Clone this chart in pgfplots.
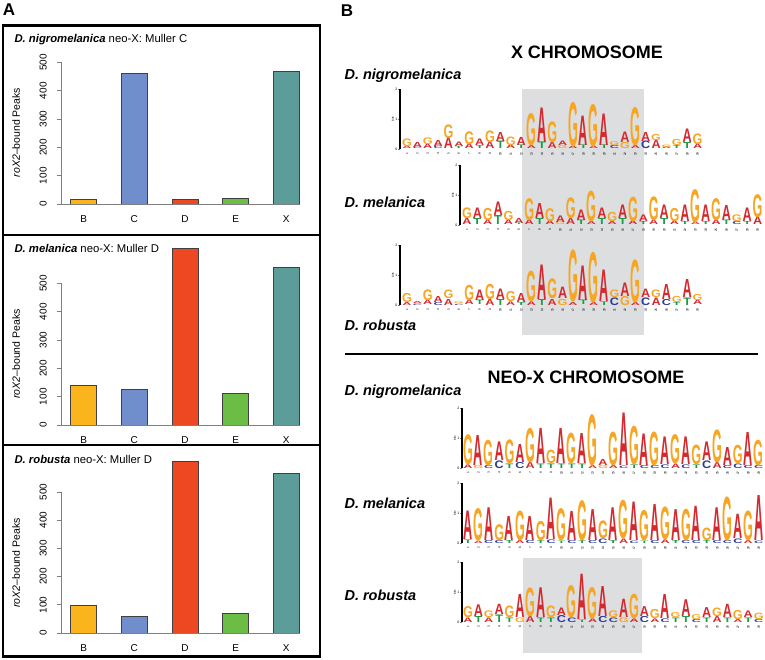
\documentclass[border=0pt]{standalone}
\usepackage{fontspec}
\setmainfont{Liberation Sans}
\usepackage{pgfplots}
\usepackage{pgfplotstable}
\pgfplotsset{compat=1.18}
\definecolor{cA}{HTML}{D42A2F}
\definecolor{cG}{HTML}{F6A623}
\definecolor{cC}{HTML}{2B3A97}
\definecolor{cT}{HTML}{1E9A48}
\definecolor{bB}{HTML}{F9B51B}
\definecolor{bC}{HTML}{6F8ECB}
\definecolor{bD}{HTML}{EE4823}
\definecolor{bE}{HTML}{6CBD45}
\definecolor{bX}{HTML}{5C9D9A}
\definecolor{motifgray}{HTML}{DDDEE0}
\newcommand\LA{\textcolor{cA}{A}}
\newcommand\LG{\textcolor{cG}{G}}
\newcommand\LC{\textcolor{cC}{C}}
\newcommand\LT{\textcolor{cT}{T}}

% X chromosome, D. nigromelanica
\pgfplotstableread{
x h1 l1 h2 l2
1 .08 A .25 G
2 .05 C .17 A
3 .15 A .22 G
4 .08 C .20 A
5 .35 A .45 G
6 .07 T .15 A
7 .15 A .42 G
8 .10 T .22 A
9 .22 A .38 G
10 .25 T .30 A
11 .12 A .28 G
12 .12 T .27 A
13 .10 A 1.05 G
14 .22 T 1.15 A
15 .20 A .68 G
16 .10 G .15 A
17 .08 A 1.45 G
18 .12 T .98 A
19 .08 A 1.38 G
20 .12 T 1.05 A
21 .10 C .12 G
22 .20 G .35 A
23 .10 A 1.25 G
24 .25 C .30 A
25 .28 A .20 G
26 .06 A .08 G
27 .10 T .20 G
28 .20 T .45 A
29 .15 A .35 G
}\tXnig
% X chromosome, D. melanica
\pgfplotstableread{
x h1 l1 h2 l2
1 .20 A .35 G
2 .20 T .35 A
3 .15 A .40 G
4 .30 T .45 A
5 .15 A .30 G
6 .05 T .17 A
7 .15 A .72 G
8 .20 T .50 A
9 .12 A .42 G
10 .08 G .22 A
11 .20 A .68 G
12 .15 T .35 A
13 .10 A 1.00 G
14 .20 T .35 A
15 .10 A .30 G
16 .20 T .45 A
17 .12 A .80 G
18 .10 T .22 A
19 .15 A .78 G
20 .20 T .45 A
21 .12 A .43 G
22 .10 T .55 A
23 .08 A 1.08 G
24 .10 T .55 A
25 .15 A .72 G
26 .15 T .50 A
27 .10 C .22 G
28 .10 T .45 A
29 .25 A .75 G
}\tXmel
% X chromosome, D. robusta
\pgfplotstableread{
x h1 l1 h2 l2
1 .10 A .30 G
2 .05 C .07 A
3 .15 A .35 G
4 .10 C .20 A
5 .20 A .28 G
6 .04 C .06 G
7 .15 A .50 G
8 .15 T .35 A
9 .20 A .50 G
10 .20 T .35 A
11 .12 A .33 G
12 .10 T .30 A
13 .12 A 1.00 G
14 .20 T 1.15 A
15 .20 A .65 G
16 .20 G .38 A
17 .10 A 1.70 G
18 .15 T 1.15 A
19 .10 A 1.65 G
20 .12 T 1.05 A
21 .25 C .25 G
22 .30 G .45 A
23 .10 A 1.40 G
24 .25 C .28 A
25 .25 A .25 G
26 .20 C .50 A
27 .10 T .20 G
28 .25 T .60 A
29 .15 A .20 G
}\tXrob
% neo-X, D. nigromelanica
\pgfplotstableread{
x h1 l1 h2 l2
1 .12 A .98 G
2 .10 G 1.00 A
3 .10 C .83 G
4 .25 C .62 A
5 .15 T .78 G
6 .20 C .60 A
7 .20 A 1.12 G
8 .15 T 1.17 A
9 .15 T .44 G
10 .15 T 1.17 A
11 .15 T 1.00 G
12 .15 T 1.00 A
13 .10 A 1.67 G
14 .10 G .20 A
15 .10 A 1.10 G
16 .08 C 1.75 A
17 .12 T 1.26 G
18 .10 C 1.05 A
19 .10 C 1.10 G
20 .12 C .92 A
21 .15 A .95 G
22 .12 C .92 A
23 .12 T .64 G
24 .25 C .62 A
25 .20 A 1.07 G
26 .10 C .60 A
27 .15 C .60 G
28 .10 C 1.10 A
29 .10 C .83 G
}\tNnig
% neo-X, D. melanica
\pgfplotstableread{
x h1 l1 h2 l2
1 .12 T .95 A
2 .08 A 1.05 G
3 .10 C 1.09 A
4 .10 C .52 G
5 .10 T .80 A
6 .10 A .97 G
7 .10 C .80 A
8 .10 T .63 G
9 .12 C 1.38 A
10 .08 T 1.05 G
11 .10 C .97 A
12 .10 T 1.31 G
13 .10 C 1.03 A
14 .15 C .58 G
15 .10 T 1.09 A
16 .15 A 1.26 G
17 .08 C 1.28 A
18 .08 T .99 G
19 .10 C 1.20 A
20 .12 A 1.07 G
21 .10 T 1.03 A
22 .10 C 1.03 G
23 .10 C 1.14 A
24 .10 T .41 G
25 .10 C 1.09 A
26 .10 C 1.43 G
27 .15 C .81 A
28 .10 A .97 G
29 .08 C 1.50 A
}\tNmel
% neo-X, D. robusta
\pgfplotstableread{
x h1 l1 h2 l2
1 .15 A .36 G
2 .20 T .39 A
3 .15 A .22 G
4 .25 T .34 A
5 .15 T .38 G
6 .15 G .77 A
7 .20 A .94 G
8 .15 T .99 A
9 .15 T .38 G
10 .23 C .25 A
11 .15 C 1.05 G
12 .08 T 1.51 A
13 .12 A 1.02 G
14 .20 C 1.00 A
15 .15 C .22 G
16 .15 G .61 A
17 .12 A .80 G
18 .20 C .33 A
19 .12 A .30 G
20 .12 C .80 A
21 .15 T .16 G
22 .20 T .56 A
23 .10 C .16 G
24 .15 T .33 A
25 .20 A .28 G
26 .15 T .44 A
27 .10 A .30 G
28 .15 T .22 A
29 .10 C .21 G
}\tNrob

\pgfplotsset{
  /pgf/number format/assume math mode=true,
  barA/.style={
    scale only axis, width=238.5pt, anchor=south west,
    xmin=-0.438, xmax=4.27, ymin=0,
    ybar, bar width=26pt, bar shift=0pt,
    axis lines*=left, axis line style={draw=none},
    xtick={0,1,2,3,4}, xticklabels={B,C,D,E,X}, xtick style={draw=none},
    xticklabel style={font=\fontsize{10}{12}\selectfont, anchor=north, inner sep=0pt},
    xticklabel shift=6.5pt,
    ytick={0,100,200,300,400,500}, tick align=outside, major tick length=5pt,
    ytick style={draw=black!50, line width=0.7pt},
    yticklabel style={font=\fontsize{10}{12}\selectfont, rotate=90, anchor=south, inner sep=0pt},
    yticklabel shift=9.5pt,
    clip=false,
    every axis plot/.append style={draw=black!75, line width=0.6pt},
  },
  logo/.style={
    scale only axis, anchor=south west, height=60pt, ymin=0, ymax=2, xmin=#1, xmax=29.6,
    width={(29.6-#1)*10.38pt},
    axis lines*=left, x axis line style={draw=none}, y axis line style={line width=1.1pt},
    xtick={1,...,29}, xtick style={draw=none}, ytick={0,1,2}, tick align=outside,
    major tick length=2pt, ytick style={line width=0.5pt},
    xticklabel style={rotate=90, anchor=east, font=\fontsize{3.2}{3.2}\selectfont, inner sep=1.2pt},
    yticklabel style={font=\fontsize{3.5}{3.5}\selectfont, inner sep=0.6pt},
    ylabel={bits}, ylabel style={font=\fontsize{3}{3}\selectfont, inner sep=0.5pt},
    clip=false,
  },
  letters/.style={
    draw=none, mark=none, forget plot,
    point meta=explicit symbolic,
    visualization depends on={\thisrow{#1} \as \lh},
    nodes near coords={\csname L\pgfplotspointmeta\endcsname},
    nodes near coords style={anchor=base, inner sep=0pt, outer sep=0pt,
      font=\bfseries\fontsize{43.6}{43.6}\selectfont, xscale=0.29, yscale=\lh},
  },
}

\begin{document}
\begin{tikzpicture}
\useasboundingbox (0pt,0pt) rectangle (765pt,-660pt);
% grey boxes marking the shared motif
\fill[motifgray] (522pt,-89pt) rectangle (644pt,-335pt);
\fill[motifgray] (523pt,-558pt) rectangle (642pt,-653pt);

% ---------- Panel A ----------
\node[font=\bfseries\fontsize{17}{17}\selectfont] at (9pt,-10pt) {A};
\draw[line width=2.4pt] (3.2pt,-25.5pt) rectangle (320pt,-656.5pt);
\draw[line width=2.4pt] (3.2pt,-235pt) -- (320pt,-235pt);
\draw[line width=2.4pt] (3.2pt,-445pt) -- (320pt,-445pt);

\begin{axis}[barA, at={(61.5pt,-204pt)}, height=141.6pt, ymax=500]
\addplot[fill=bB] coordinates {(0,16)};
\addplot[fill=bC] coordinates {(1,460)};
\addplot[fill=bD] coordinates {(2,16)};
\addplot[fill=bE] coordinates {(3,19)};
\addplot[fill=bX] coordinates {(4,470)};
\draw[black!50, line width=0.9pt] (axis cs:-0.438,0) -- (axis cs:4.27,0);
\draw[black!50, line width=0.9pt] (axis cs:-0.438,0) -- (axis cs:-0.438,500);
\end{axis}
\node[anchor=west, font=\fontsize{11.3}{13}\selectfont] at (11pt,-40pt) {\textbf{\textit{D. nigromelanica}} neo-X: Muller C};
\node[rotate=90, font=\fontsize{10.5}{12}\selectfont] at (16pt,-132.5pt) {\textit{roX2}--bound Peaks};

\begin{axis}[barA, at={(61.5pt,-425pt)}, height=177pt, ymax=625]
\addplot[fill=bB] coordinates {(0,141)};
\addplot[fill=bC] coordinates {(1,126)};
\addplot[fill=bD] coordinates {(2,623)};
\addplot[fill=bE] coordinates {(3,113)};
\addplot[fill=bX] coordinates {(4,556)};
\draw[black!50, line width=0.9pt] (axis cs:-0.438,0) -- (axis cs:4.27,0);
\draw[black!50, line width=0.9pt] (axis cs:-0.438,0) -- (axis cs:-0.438,500);
\end{axis}
\node[anchor=west, font=\fontsize{11.3}{13}\selectfont] at (11pt,-248pt) {\textbf{\textit{D. melanica}} neo-X: Muller D};
\node[rotate=90, font=\fontsize{10.5}{12}\selectfont] at (16pt,-354pt) {\textit{roX2}--bound Peaks};

\begin{axis}[barA, at={(61.5pt,-633pt)}, height=176.3pt, ymax=625]
\addplot[fill=bB] coordinates {(0,97)};
\addplot[fill=bC] coordinates {(1,59)};
\addplot[fill=bD] coordinates {(2,610)};
\addplot[fill=bE] coordinates {(3,69)};
\addplot[fill=bX] coordinates {(4,565)};
\draw[black!50, line width=0.9pt] (axis cs:-0.438,0) -- (axis cs:4.27,0);
\draw[black!50, line width=0.9pt] (axis cs:-0.438,0) -- (axis cs:-0.438,500);
\end{axis}
\node[anchor=west, font=\fontsize{11.3}{13}\selectfont] at (11pt,-459pt) {\textbf{\textit{D. robusta}} neo-X: Muller D};
\node[rotate=90, font=\fontsize{10.5}{12}\selectfont] at (16pt,-563pt) {\textit{roX2}--bound Peaks};

% ---------- Panel B ----------
\node[font=\bfseries\fontsize{17}{17}\selectfont] at (347pt,-11pt) {B};
\node[font=\bfseries\fontsize{18}{18}\selectfont] at (587pt,-52pt) {X CHROMOSOME};
\node[font=\bfseries\fontsize{18}{18}\selectfont] at (586pt,-377pt) {NEO-X CHROMOSOME};
\draw[line width=2.7pt] (345pt,-354pt) -- (758pt,-354pt);
\begin{scope}[every node/.style={anchor=west, font=\bfseries\itshape\fontsize{14.5}{16}\selectfont}]
\node at (341pt,-76pt) {D. nigromelanica};
\node at (341pt,-202pt) {D. melanica};
\node at (341pt,-325pt) {D. robusta};
\node at (341pt,-392pt) {D. nigromelanica};
\node at (341pt,-503pt) {D. melanica};
\node at (341pt,-595pt) {D. robusta};
\end{scope}

\begin{axis}[logo=0.33, at={(400pt,-149pt)}]
\addplot[letters=h1] table[x=x, y expr=0, meta=l1] {\tXnig};
\addplot[letters=h2] table[x=x, y=h1, meta=l2] {\tXnig};
\end{axis}
\begin{axis}[logo=0.33, at={(460pt,-225pt)}]
\addplot[letters=h1] table[x=x, y expr=0, meta=l1] {\tXmel};
\addplot[letters=h2] table[x=x, y=h1, meta=l2] {\tXmel};
\end{axis}
\begin{axis}[logo=0.33, at={(400pt,-305pt)}]
\addplot[letters=h1] table[x=x, y expr=0, meta=l1] {\tXrob};
\addplot[letters=h2] table[x=x, y=h1, meta=l2] {\tXrob};
\end{axis}
\begin{axis}[logo=0.42, at={(462pt,-468pt)}]
\addplot[letters=h1] table[x=x, y expr=0, meta=l1] {\tNnig};
\addplot[letters=h2] table[x=x, y=h1, meta=l2] {\tNnig};
\end{axis}
\begin{axis}[logo=0.42, at={(462pt,-543pt)}]
\addplot[letters=h1] table[x=x, y expr=0, meta=l1] {\tNmel};
\addplot[letters=h2] table[x=x, y=h1, meta=l2] {\tNmel};
\end{axis}
\begin{axis}[logo=0.42, at={(462pt,-622pt)}]
\addplot[letters=h1] table[x=x, y expr=0, meta=l1] {\tNrob};
\addplot[letters=h2] table[x=x, y=h1, meta=l2] {\tNrob};
\end{axis}
\end{tikzpicture}
\end{document}
